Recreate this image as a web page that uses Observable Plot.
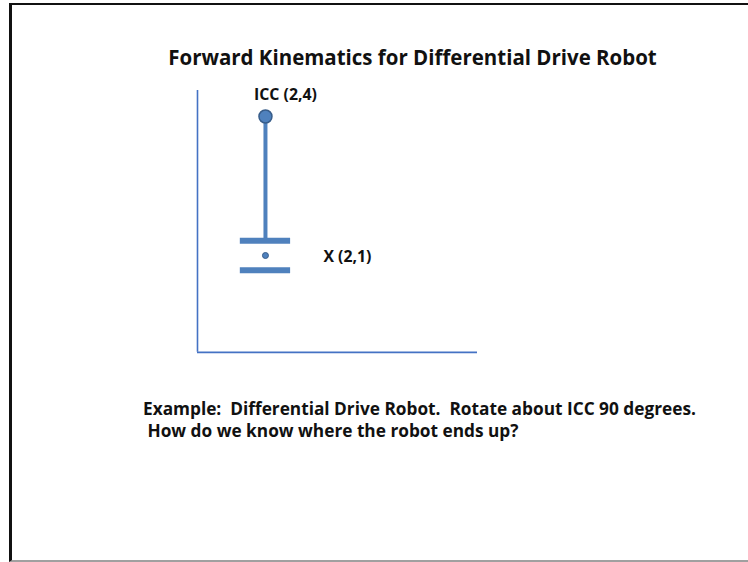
<!DOCTYPE html>
<html>
<head>
<meta charset="utf-8">
<script src="https://cdn.jsdelivr.net/npm/d3@7"></script>
<script src="https://cdn.jsdelivr.net/npm/@observablehq/plot@0.6"></script>
<style>
  html, body { margin: 0; padding: 0; background: #fff; }
  body { width: 748px; height: 562px; position: relative; overflow: hidden; font-family: "Open Sans", Lato, sans-serif; }
  #frame { position: absolute; left: 9px; top: 3px; width: 760px; height: 555px; border-left: 3px solid #111; border-top: 2px solid #111; border-bottom: 2px solid #a0a0a0; }
  #chart { position: absolute; left: 0; top: 0; }
  .t { position: absolute; font-weight: bold; color: #111; white-space: pre; line-height: 1; }
</style>
</head>
<body>
<div id="frame"></div>
<div id="chart"></div>
<div class="t" id="title"></div>
<div class="t" id="cap1"></div>
<div class="t" id="cap2"></div>
<script>
// ---- data ----
const titleText = "Forward Kinematics for Differential Drive Robot";
const captionLines = [
  "Example:  Differential Drive Robot.  Rotate about ICC 90 degrees.",
  " How do we know where the robot ends up?"
];
const pointNames = ["ICC", "X"];
const pointX = [2, 2];
const pointY = [4, 1];
const pointLabels = ["ICC (2,4)", "X (2,1)"];
// axis extents (diagram units)
const axisOrigin = {x: 0, y: -1.09};
const axisEnd = {x: 8.24, y: 4.56};
// robot wheels (diagram units)
const wheelY = [1.32, 0.68];
const wheelHalfLength = 0.74;

const blue = "#4F81BD";
const axisBlue = "#4472C4";

const points = pointNames.map((n, i) => ({name: n, x: pointX[i], y: pointY[i], label: pointLabels[i]}));
const icc = points[0], robot = points[1];
const wheels = wheelY.map(y => ({y, x1: robot.x - wheelHalfLength, x2: robot.x + wheelHalfLength}));

const plot = Plot.plot({
  width: 748,
  height: 562,
  margin: 0,
  x: {type: "linear", domain: [0, 8.24], range: [197, 477], axis: null},
  y: {type: "linear", domain: [1, 4], range: [255, 116], axis: null},
  style: {background: "transparent", overflow: "visible"},
  marks: [
    Plot.ruleX([axisOrigin.x], {y1: axisOrigin.y, y2: axisEnd.y, stroke: axisBlue, strokeWidth: 1.6}),
    Plot.ruleY([axisOrigin.y], {x1: axisOrigin.x, x2: axisEnd.x, stroke: axisBlue, strokeWidth: 1.6}),
    Plot.link([{x: icc.x, y1: icc.y, y2: wheelY[0]}], {x1: "x", x2: "x", y1: "y1", y2: "y2", stroke: blue, strokeWidth: 4}),
    Plot.ruleY(wheels, {y: "y", x1: "x1", x2: "x2", stroke: blue, strokeWidth: 6}),
    Plot.dot([icc], {x: "x", y: "y", r: 6.5, fill: blue, stroke: "#385D8A", strokeWidth: 1.5}),
    Plot.dot([robot], {x: "x", y: "y", r: 3, fill: blue, stroke: "#385D8A", strokeWidth: 1}),
    Plot.text([icc], {x: "x", y: "y", text: "label", dx: 20, dy: -22, fontWeight: "bold", fontSize: 12, fill: "#111", fontFamily: "Open Sans", className: "lbl-icc"}),
    Plot.text([robot], {x: "x", y: "y", text: "label", dx: 58, dy: 1, textAnchor: "start", fontWeight: "bold", fontSize: 12, fill: "#111", fontFamily: "Open Sans", className: "lbl-x"})
  ]
});
document.getElementById("chart").appendChild(plot);

// fit text widths to the reference layout
function placeDiv(id, text, left, centerY, targetWidth, centered) {
  const el = document.getElementById(id);
  el.textContent = text;
  el.style.fontSize = "16px";
  const w = el.getBoundingClientRect().width;
  const fs = 16 * targetWidth / w;
  el.style.fontSize = fs + "px";
  const r = el.getBoundingClientRect();
  el.style.left = (centered ? left - r.width / 2 : left) + "px";
  el.style.top = (centerY - r.height / 2) + "px";
}
placeDiv("title", titleText, 412.5, 57, 489, true);
placeDiv("cap1", captionLines[0], 143, 409, 553, false);
const cap1fs = parseFloat(document.getElementById("cap1").style.fontSize);
const c2 = document.getElementById("cap2");
c2.textContent = captionLines[1];
c2.style.fontSize = cap1fs + "px";
c2.style.left = "143px";
c2.style.top = (431 - c2.getBoundingClientRect().height / 2) + "px";

function fitSvgText(cls, target) {
  plot.querySelectorAll("." + cls + " text").forEach(t => {
    const w = t.getComputedTextLength();
    t.setAttribute("font-size", 12 * target / w);
    t.style.fontSize = (12 * target / w) + "px";
  });
}
fitSvgText("lbl-icc", 63);
fitSvgText("lbl-x", 48);
</script>
</body>
</html>
